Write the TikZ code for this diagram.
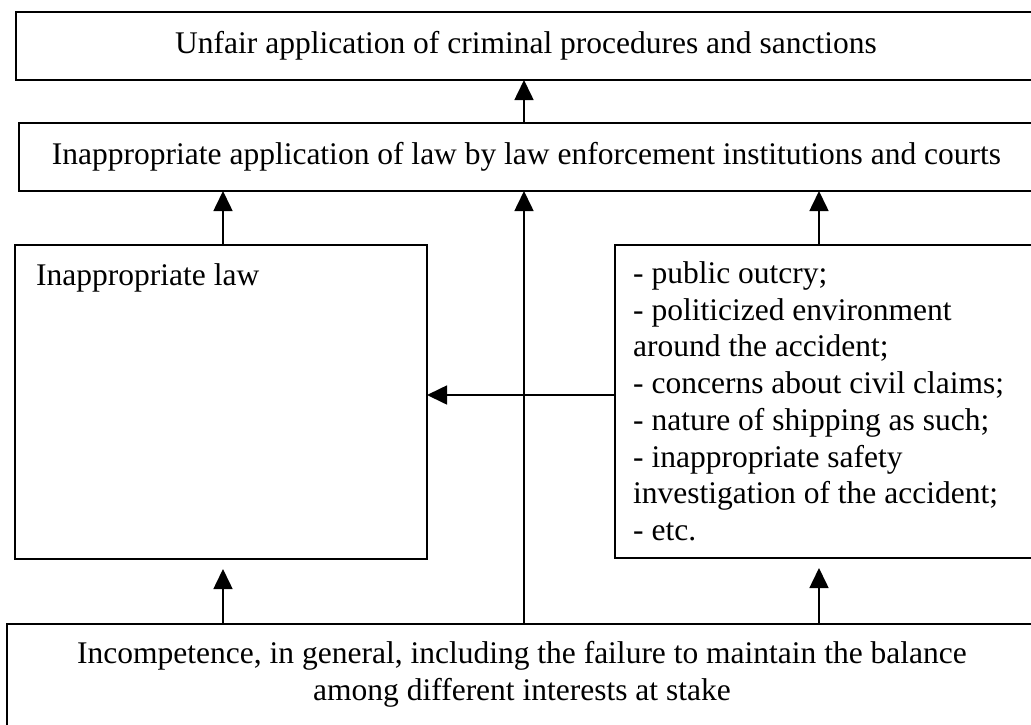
\documentclass[tikz,border=0pt]{standalone}
\usepackage{fontspec}
\setmainfont{Liberation Serif}
\usetikzlibrary{arrows.meta,calc}

\begin{document}
\begin{tikzpicture}[x=1pt, y=-1pt,
    box/.style={draw, line width=1.6pt, anchor=north west, inner sep=0pt, outer sep=0pt, font=\fontsize{31.5}{36.7}\selectfont},
    txt/.style={inner sep=0pt, font=\fontsize{31.5}{36.7}\selectfont},
    arr/.style={-{Triangle[width=19pt, length=20pt]}, line width=1.6pt}]

    \clip (0, 0) rectangle (1031, 724);

    \node [box, minimum width=1020pt, minimum height=68pt] (u) at (16, 12) {Unfair application of criminal procedures and sanctions};
    \node [box, minimum width=1015pt, minimum height=68pt] (a) at (19, 123) {Inappropriate application of law by law enforcement institutions and courts};
    \node [box, minimum width=412pt, minimum height=314pt] (l) at (15, 245) {};
    \node [box, minimum width=420pt, minimum height=313pt] (f) at (615, 245) {};
    \node [box, minimum width=1030pt, minimum height=120pt] (i) at (7, 624) {};

    \node [txt, anchor=base west] (lt) at (36, 285) {Inappropriate law};
    \node [txt, anchor=north west, align=left] (ft) at (633, 261.5) {- public outcry;\\- politicized environment\\around the accident;\\- concerns about civil claims;\\- nature of shipping as such;\\- inappropriate safety\\investigation of the accident;\\- etc.};
    \node [txt, anchor=north, align=center] (it) at ($(i.north) + (0, 17.5)$) {Incompetence, in general, including the failure to maintain the balance\\among different interests at stake};

    \coordinate (p) at (223, 0);
    \coordinate (m) at (524, 0);
    \coordinate (q) at (819, 0);
    \coordinate (h) at (0, 395);

    \draw [arr] (a.north -| m) to (u.south -| m);
    \draw [arr] (l.north -| p) to (a.south -| p);
    \draw [arr] (f.north -| q) to (a.south -| q);
    \draw [arr] (i.north -| m) to (a.south -| m);
    \draw [arr] (f.west |- h) to (l.east |- h);
    \draw [arr] (i.north -| p) to ($(l.south -| p) + (0, 10)$);
    \draw [arr] (i.north -| q) to ($(f.south -| q) + (0, 10)$);

\end{tikzpicture}
\end{document}
